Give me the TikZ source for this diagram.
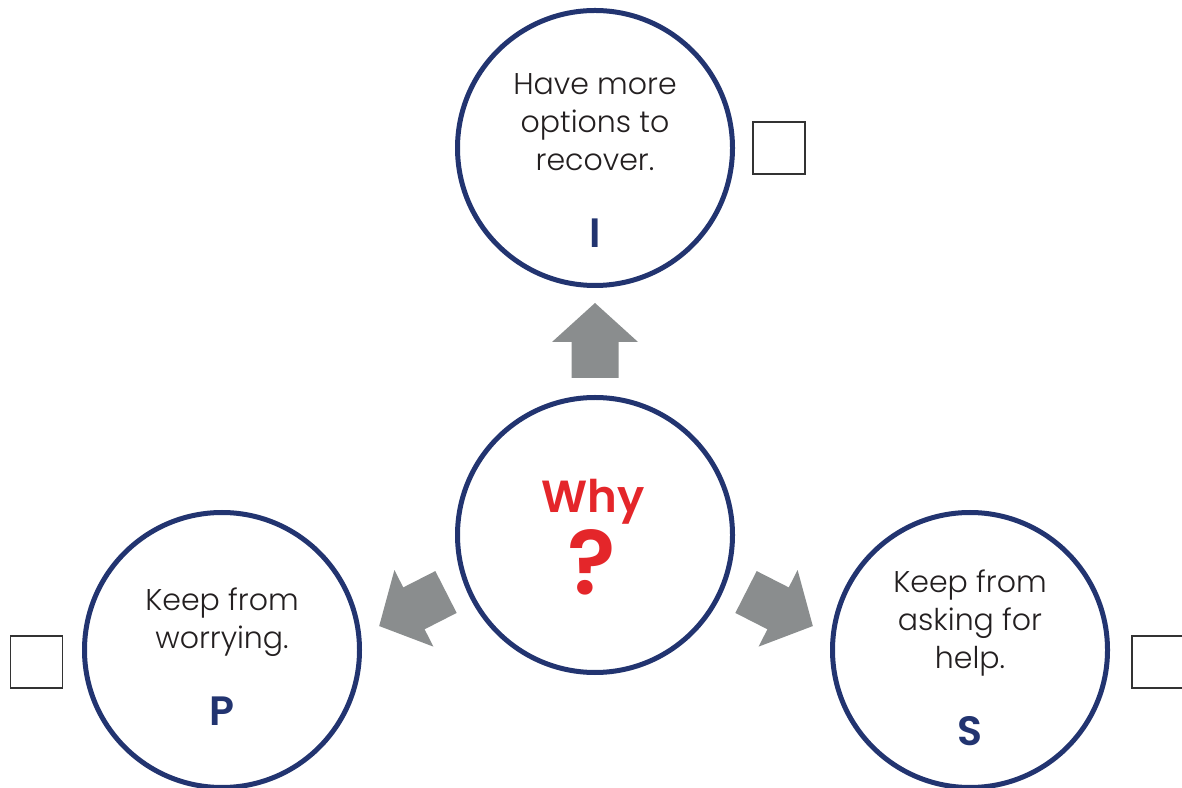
\documentclass[tikz,border=0pt]{standalone}
\usepackage{fontspec}
\setmainfont{Poppins}[UprightFont={* Light}]
\usetikzlibrary{calc}
\definecolor{navy}{RGB}{34,52,112}
\definecolor{whyred}{RGB}{228,38,42}
\definecolor{arrowgray}{RGB}{138,141,142}
\definecolor{ink}{RGB}{35,31,32}

\begin{document}
\begin{tikzpicture}[x=1pt,y=1pt,
    ring/.style={circle,draw=navy,line width=5pt,minimum size=275pt,inner sep=0pt},
    msg/.style={align=center,text=ink,anchor=base,font=\fontsize{30}{38}\selectfont},
    letter/.style={text=navy,anchor=base,font=\bfseries\fontsize{41}{41}\selectfont},
    tick box/.style={draw=black!80,line width=1.5pt,minimum size=52pt,inner sep=0pt},
    fat arrow/.pic={\fill[arrowgray] (-23.5,0) -- (-23.5,36) -- (-43,36) -- (0,75)
                    -- (43,36) -- (23.5,36) -- (23.5,0) -- cycle;}]
  \useasboundingbox (0,0) rectangle (1182,787);
  \node[ring] (why) at (595,252) {};
  \node[ring] (I) at (595,639) {};
  \node[ring] (P) at (222,137) {};
  \node[ring] (S) at (970,137) {};

  % texts (base = last line)
  \node[text=whyred,anchor=base,font=\bfseries\fontsize{45}{45}\selectfont] (why word) at ($(why)+(-2,22)$) {Why};
  \node[text=whyred,anchor=base,font=\bfseries\fontsize{90}{90}\selectfont] (why mark) at ($(why)+(-3,-60)$) {?};
  \node[msg] (I text) at ($(I)+(0,-23)$) {Have more\\options to\\recover.};
  \node[letter] (I letter) at ($(I)+(0,-100)$) {I};
  \node[msg] (P text) at ($(P)+(0,2)$) {Keep from\\worrying.};
  \node[letter] (P letter) at ($(P)+(0,-75)$) {P};
  \node[msg] (S text) at ($(S)+(0,-18)$) {Keep from\\asking for\\help.};
  \node[letter] (S letter) at ($(S)+(0,-95)$) {S};

  \node[tick box] (I box) at (779,639) {};
  \node[tick box] (P box) at (36.5,125) {};
  \node[tick box] (S box) at (1158,125) {};

  \pic at ($(why)+(0,157)$) {fat arrow};
  \pic[rotate=117] at ($(why)+(-149,-57)$) {fat arrow};
  \pic[rotate=-117] at ($(why)+(151,-57)$) {fat arrow};
\end{tikzpicture}
\end{document}
